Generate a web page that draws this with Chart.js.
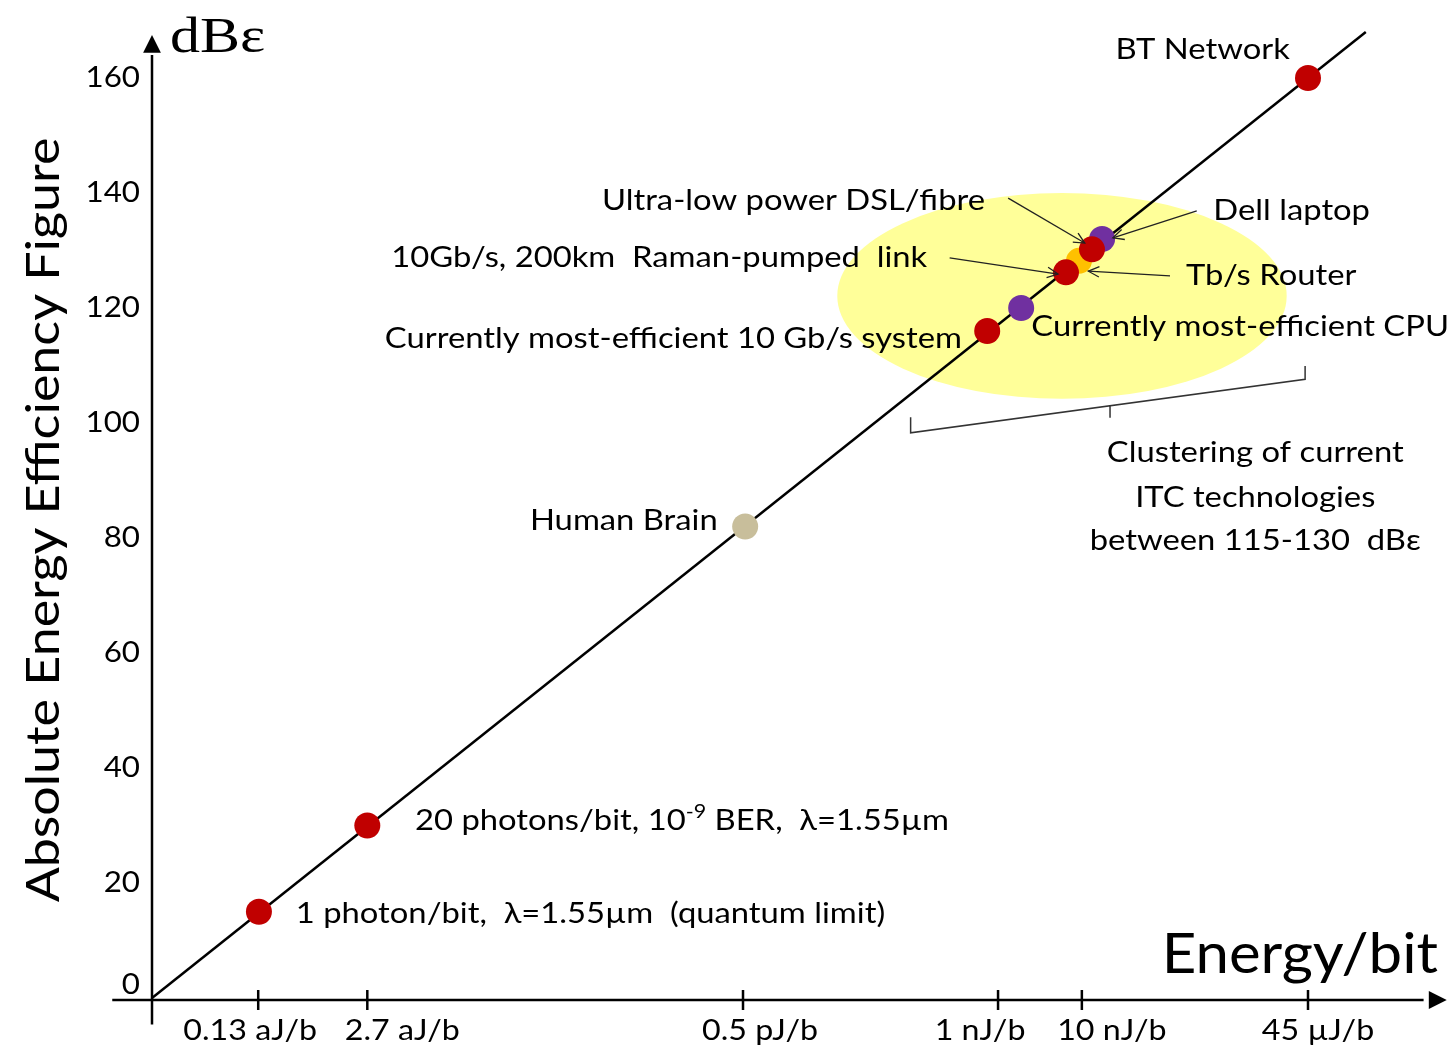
<!DOCTYPE html>
<html>
<head>
<meta charset="utf-8">
<script src="https://cdn.jsdelivr.net/npm/chart.js@4.4.1/dist/chart.umd.min.js"></script>
<style>
  html, body { margin: 0; padding: 0; background: #fff; }
  #wrap { width: 1455px; height: 1049px; }
</style>
</head>
<body>
<div id="wrap"><canvas id="myChart"></canvas></div>
<script>
// values in dB-epsilon (x is energy/bit on the same dB scale, so the line is y = x)
const pointNames = ['1 photon/bit', '20 photons/bit', 'Human Brain', '10 Gb/s system', 'CPU',
                    'Dell laptop', 'Tb/s Router', 'DSL/fibre', 'Raman link', 'BT Network'];
const energyDb = [14.8, 29.8, 82.1, 115.6, 120.3, 131.5, 128.3, 130.1, 126.5, 160];
const efficiencyDb = [15, 30, 82, 116, 120, 132, 128.2, 130.2, 126.2, 160];
const pointColors = ['#c00000', '#c00000', '#c8be9b', '#c00000', '#7030a0',
                     '#7030a0', '#ffc000', '#c00000', '#c00000', '#c00000'];
const lineEnds = [0, 168];
const yTicks = [0, 20, 40, 60, 80, 100, 120, 140, 160];
const xTickValues = [14.7, 29.8, 81.8, 117.1, 128.7, 160];
const xTickLabels = ['0.13 aJ/b', '2.7 aJ/b', '0.5 pJ/b', '1 nJ/b', '10 nJ/b', '45 µJ/b'];

// layout
const W = 1455, H = 1049;
const X_PX = 7.225, Y_PX = 5.75;       // pixels per dB
const OX = 152, OY = 998;              // where 0,0 lands
const xMin = -5.5, xMax = 180, yMin = -5.5, yMax = 168.5;
const FONT = 'Lato, "Open Sans", sans-serif';
const STRETCH = 1.13;                  // reference text is wider than Lato
const tickNudge = [-8, 35, 17, -18, 30, 10];

const notes = [
  {text: 'BT Network', x: 157.5, y: 164.9, align: 'right'},
  {text: 'Ultra-low power DSL/fibre', x: 115.3, y: 138.6, align: 'right'},
  {text: 'Dell laptop', x: 146.9, y: 136.9, align: 'left'},
  {text: '10Gb/s, 200km  Raman-pumped  link', x: 107.3, y: 128.7, align: 'right'},
  {text: 'Tb/s Router', x: 143.1, y: 125.6, align: 'left'},
  {text: 'Currently most-efficient CPU', x: 121.7, y: 116.7, align: 'left'},
  {text: 'Currently most-efficient 10 Gb/s system', x: 112.1, y: 114.6, align: 'right'},
  {text: 'Human Brain', x: 78.3, y: 83, align: 'right'},
  {text: ['20 photons/bit, 10', '-9', ' BER,  λ=1.55µm'], x: 36.4, y: 30.8, align: 'left'},
  {text: '1 photon/bit,  λ=1.55µm  (quantum limit)', x: 19.9, y: 14.6, align: 'left'},
  {text: 'Clustering of current', x: 152.7, y: 94.8, align: 'center'},
  {text: 'ITC technologies', x: 152.7, y: 87.1, align: 'center'},
  {text: 'between 115-130  dBε', x: 152.7, y: 79.5, align: 'center'}
];
const arrows = [
  [118.5, 139.1, 129.1, 131.3],
  [144.6, 136.9, 133.0, 132.2],
  [110.4, 128.7, 125.4, 125.9],
  [140.9, 125.6, 129.6, 126.4]
];

function arrowHead(ctx, x1, y1, x2, y2, len, ang, filled) {
  const a = Math.atan2(y2 - y1, x2 - x1);
  ctx.beginPath();
  ctx.moveTo(x2 - len * Math.cos(a - ang), y2 - len * Math.sin(a - ang));
  ctx.lineTo(x2, y2);
  ctx.lineTo(x2 - len * Math.cos(a + ang), y2 - len * Math.sin(a + ang));
  if (filled) { ctx.closePath(); ctx.fill(); } else ctx.stroke();
}

// text drawn with a horizontal stretch
function wideText(ctx, text, x, y, align, s) {
  ctx.save();
  ctx.translate(x, y);
  ctx.scale(s, 1);
  ctx.textAlign = align;
  ctx.fillText(text, 0, 0);
  ctx.restore();
}

const backdrop = {
  id: 'backdrop',
  beforeDatasetsDraw(chart) {
    const ctx = chart.ctx, sx = chart.scales.x, sy = chart.scales.y;
    // yellow cluster ellipse
    const cx = sx.getPixelForValue(125.95), cy = sy.getPixelForValue(122.1);
    const rx = sx.getPixelForValue(125.95 + 31.1) - cx;
    const ry = cy - sy.getPixelForValue(122.1 + 17.9);
    ctx.save();
    ctx.fillStyle = '#ffff99';
    ctx.beginPath();
    ctx.ellipse(cx, cy, rx, ry, 0, 0, Math.PI * 2);
    ctx.fill();

    // axes
    ctx.strokeStyle = '#000';
    ctx.fillStyle = '#000';
    ctx.lineWidth = 2.5;
    const x0 = sx.getPixelForValue(0), y0 = sy.getPixelForValue(0);
    ctx.beginPath();
    ctx.moveTo(x0, sy.getPixelForValue(-4.6));
    ctx.lineTo(x0, sy.getPixelForValue(164));
    ctx.moveTo(sx.getPixelForValue(-5.5), y0 + 2);
    ctx.lineTo(sx.getPixelForValue(176), y0 + 2);
    ctx.stroke();
    arrowHead(ctx, x0, 200, x0, sy.getPixelForValue(167.5), 20, 0.46, true);
    arrowHead(ctx, 200, y0 + 2, sx.getPixelForValue(179.2), y0 + 2, 20, 0.46, true);

    // x tick marks and labels
    ctx.font = '29px ' + FONT;
    ctx.textBaseline = 'middle';
    xTickValues.forEach((v, i) => {
      const p = sx.getPixelForValue(v);
      ctx.beginPath();
      ctx.moveTo(p, y0 - 8);
      ctx.lineTo(p, y0 + 12);
      ctx.stroke();
      wideText(ctx, xTickLabels[i], p + tickNudge[i], y0 + 33, 'center', 1.11);
    });
    // y tick labels
    yTicks.forEach(v => {
      const yy = v === 0 ? sy.getPixelForValue(2.3) : sy.getPixelForValue(v);
      wideText(ctx, String(v), x0 - 12, yy, 'right', 1.08);
    });

    // axis titles
    ctx.save();
    ctx.translate(44, 520);
    ctx.rotate(-Math.PI / 2);
    ctx.font = '46px ' + FONT;
    wideText(ctx, 'Absolute Energy Efficiency Figure', 0, 0, 'center', STRETCH);
    ctx.restore();
    ctx.textBaseline = 'alphabetic';
    ctx.font = '56px ' + FONT;
    wideText(ctx, 'Energy/bit', 1438, 973, 'right', 1.07);
    ctx.font = '50px "Liberation Serif", "DejaVu Serif", serif';
    wideText(ctx, 'dBε', 170, 52, 'left', 1.2);
    ctx.restore();
  },
  afterDatasetsDraw(chart) {
    const ctx = chart.ctx, sx = chart.scales.x, sy = chart.scales.y;
    ctx.save();
    ctx.fillStyle = '#000';
    ctx.strokeStyle = '#222';
    ctx.textBaseline = 'middle';
    const big = '29px ' + FONT, small = '19px ' + FONT;
    ctx.font = big;
    notes.forEach(n => {
      const px = sx.getPixelForValue(n.x), py = sy.getPixelForValue(n.y);
      if (Array.isArray(n.text)) {
        let cur = px;
        n.text.forEach((t, i) => {
          ctx.font = i === 1 ? small : big;
          wideText(ctx, t, cur, i === 1 ? py - 9 : py, 'left', STRETCH);
          cur += ctx.measureText(t).width * STRETCH;
        });
        ctx.font = big;
      } else {
        wideText(ctx, n.text, px, py, n.align, STRETCH);
      }
    });
    // pointer arrows
    ctx.lineWidth = 1.3;
    arrows.forEach(a => {
      const x1 = sx.getPixelForValue(a[0]), y1 = sy.getPixelForValue(a[1]);
      const x2 = sx.getPixelForValue(a[2]), y2 = sy.getPixelForValue(a[3]);
      ctx.beginPath();
      ctx.moveTo(x1, y1);
      ctx.lineTo(x2, y2);
      ctx.stroke();
      arrowHead(ctx, x1, y1, x2, y2, 12, 0.45, false);
    });
    // brace under the cluster
    const bx = v => sx.getPixelForValue(v), by = v => sy.getPixelForValue(v);
    ctx.lineWidth = 1.5;
    ctx.strokeStyle = '#333';
    ctx.beginPath();
    ctx.moveTo(bx(105.0), by(101.0));
    ctx.lineTo(bx(105.0), by(98.3));
    ctx.lineTo(bx(159.6), by(107.6));
    ctx.lineTo(bx(159.6), by(109.9));
    ctx.moveTo(bx(132.6), by(103.1));
    ctx.lineTo(bx(132.6), by(100.9));
    ctx.stroke();
    ctx.restore();
  }
};

const ctx = document.getElementById('myChart').getContext('2d');
const myChart = new Chart(ctx, {
  type: 'scatter',
  data: {
    datasets: [{
      label: 'points',
      data: energyDb.map((x, i) => ({x: x, y: efficiencyDb[i], name: pointNames[i]})),
      pointBackgroundColor: pointColors,
      pointBorderWidth: 0,
      pointRadius: 13,
      order: 1
    }, {
      label: 'line',
      data: lineEnds.map(v => ({x: v, y: v})),
      showLine: true,
      borderColor: '#000',
      borderWidth: 2.5,
      pointRadius: 0,
      order: 2
    }]
  },
  options: {
    responsive: true,
    maintainAspectRatio: false,
    animation: false,
    layout: {
      autoPadding: false,
      padding: {
        left: OX + xMin * X_PX,
        right: W - (OX + xMax * X_PX),
        top: OY - yMax * Y_PX,
        bottom: H - (OY - yMin * Y_PX)
      }
    },
    plugins: { legend: { display: false }, tooltip: { enabled: false } },
    scales: {
      x: { type: 'linear', min: xMin, max: xMax, display: false },
      y: { type: 'linear', min: yMin, max: yMax, display: false }
    }
  },
  plugins: [backdrop]
});
</script>
</body>
</html>
